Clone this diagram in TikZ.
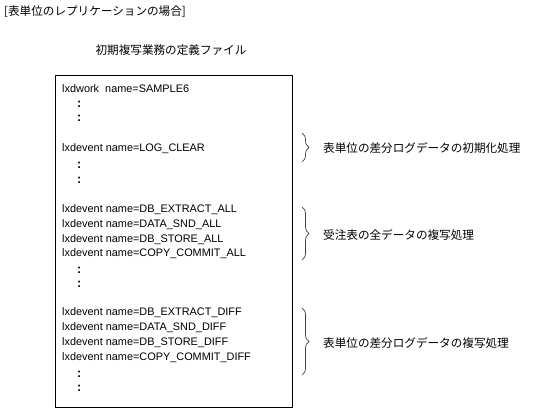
\documentclass[tikz,border=0pt]{standalone}
\usepackage{fontspec}
\setmainfont{Liberation Sans}
\newfontfamily\jp{Noto Sans CJK JP}
\usetikzlibrary{decorations.pathreplacing}
\tikzset{
  code/.style={anchor=west, inner sep=0pt, font=\fontsize{10.9}{12}\selectfont},
  vdots/.style={anchor=west, inner sep=0pt, font=\fontsize{12.5}{13}\selectfont\bfseries},
  jlabel/.style={anchor=west, inner sep=0pt, font=\jp\fontsize{11.6}{13}\selectfont},
  filebox/.style={draw=black, line width=0.9pt},
  bracestyle/.style={draw=black!75, line width=0.7pt, decorate, decoration={brace, amplitude=7pt, raise=0pt}}
}
\begin{document}
\begin{tikzpicture}[x=1pt, y=-1pt]
\useasboundingbox (0,0) rectangle (538,418);
\node[jlabel] (title) at (4,12) {[表単位のレプリケーションの場合]};
\node[jlabel, anchor=center] (ftitle) at (171,50) {初期複写業務の定義ファイル};
\draw[filebox] (55,75) rectangle (292,407);
% code lines
\node[code] (l1) at (62,89) {lxdwork\ \ name=SAMPLE6};
\node[vdots] (d1) at (77,104) {:};
\node[vdots] (d2) at (77,118) {:};
\node[code] (l2) at (62,149) {lxdevent name=LOG\_CLEAR};
\node[vdots] (d3) at (77,165) {:};
\node[vdots] (d4) at (77,180) {:};
\node[code] (l3) at (62,210) {lxdevent name=DB\_EXTRACT\_ALL};
\node[code] (l4) at (62,225) {lxdevent name=DATA\_SND\_ALL};
\node[code] (l5) at (62,240) {lxdevent name=DB\_STORE\_ALL};
\node[code] (l6) at (62,254) {lxdevent name=COPY\_COMMIT\_ALL};
\node[vdots] (d5) at (77,270) {:};
\node[vdots] (d6) at (77,284) {:};
\node[code] (l7) at (62,313) {lxdevent name=DB\_EXTRACT\_DIFF};
\node[code] (l8) at (62,328) {lxdevent name=DATA\_SND\_DIFF};
\node[code] (l9) at (62,343) {lxdevent name=DB\_STORE\_DIFF};
\node[code] (l10) at (62,358) {lxdevent name=COPY\_COMMIT\_DIFF};
\node[vdots] (d7) at (77,374) {:};
\node[vdots] (d8) at (77,388) {:};
% braces
\coordinate (b1t) at (302,133); \coordinate (b1b) at (302,162);
\coordinate (b2t) at (302,207); \coordinate (b2b) at (302,260);
\coordinate (b3t) at (302,308); \coordinate (b3b) at (302,375);
\draw[bracestyle] (b1t) -- (b1b);
\draw[bracestyle] (b2t) -- (b2b);
\draw[bracestyle] (b3t) -- (b3b);
\node[jlabel] (t1) at (323,148) {表単位の差分ログデータの初期化処理};
\node[jlabel] (t2) at (323,235) {受注表の全データの複写処理};
\node[jlabel] (t3) at (323,343) {表単位の差分ログデータの複写処理};
\end{tikzpicture}
\end{document}
